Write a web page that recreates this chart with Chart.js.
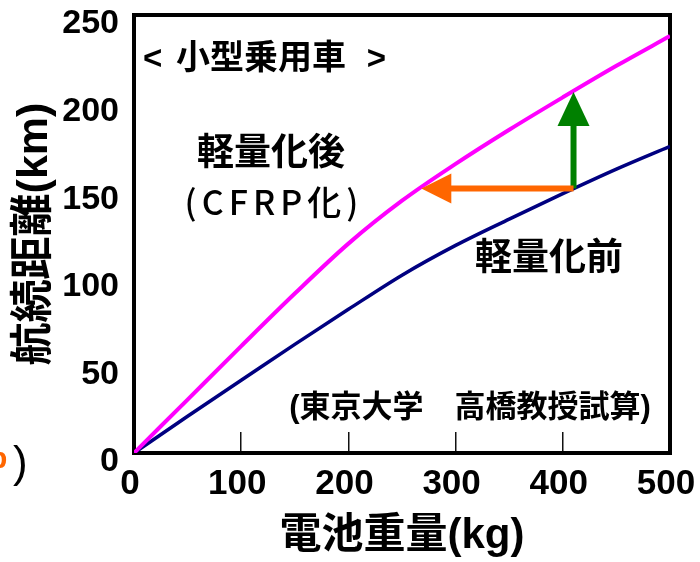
<!DOCTYPE html>
<html>
<head>
<meta charset="utf-8">
<script src="https://cdn.jsdelivr.net/npm/chart.js@4/dist/chart.umd.min.js"></script>
<style>
  body { margin: 0; background: #fff; }
</style>
</head>
<body>
<canvas id="rangeChart" width="700" height="562"></canvas>
<script>
// battery weight (kg) vs driving range (km)
var weights = [0, 50, 100, 150, 200, 250, 300, 350, 400, 450, 500];
var rangeAfter = [0, 30.5, 61, 91, 119.5, 144, 165, 184.5, 203, 221, 238];   // CFRP body
var rangeBefore = [0, 21, 41.5, 62, 82, 101.5, 118.5, 133.5, 148, 162, 175];
var xTicks = [0, 100, 200, 300, 400, 500];
var yTicks = [0, 50, 100, 150, 200, 250];

var jpFont = '"Liberation Sans", "Noto Sans CJK JP", sans-serif';
Chart.defaults.font.family = jpFont;
Chart.defaults.color = '#000';

function toPoints(ys) {
  return weights.map(function (w, i) { return { x: w, y: ys[i] }; });
}

function drawArrow(ctx, x1, y1, x2, y2, color, shaft, headW, headL) {
  var dx = x2 - x1, dy = y2 - y1;
  var len = Math.sqrt(dx * dx + dy * dy);
  var ux = dx / len, uy = dy / len;
  var bx = x2 - ux * headL, by = y2 - uy * headL;
  ctx.save();
  ctx.strokeStyle = color;
  ctx.fillStyle = color;
  ctx.lineWidth = shaft;
  ctx.lineCap = 'butt';
  ctx.beginPath();
  ctx.moveTo(x1, y1);
  ctx.lineTo(bx + ux, by + uy);
  ctx.stroke();
  ctx.beginPath();
  ctx.moveTo(x2, y2);
  ctx.lineTo(bx - uy * headW / 2, by + ux * headW / 2);
  ctx.lineTo(bx + uy * headW / 2, by - ux * headW / 2);
  ctx.closePath();
  ctx.fill();
  ctx.restore();
}

function txt(ctx, s, x, y, font, align, color) {
  ctx.font = font;
  ctx.textAlign = align || 'center';
  ctx.fillStyle = color || '#000';
  ctx.fillText(s, x, y);
}

var overlay = {
  id: 'overlay',
  beforeDatasetsDraw: function (chart) {
    var ctx = chart.ctx, a = chart.chartArea;
    ctx.save();
    ctx.strokeStyle = '#000';
    ctx.lineWidth = 4;
    ctx.strokeRect(a.left, a.top, a.right - a.left, a.bottom - a.top);
    ctx.restore();
  },
  afterDatasetsDraw: function (chart) {
    var ctx = chart.ctx, x = chart.scales.x, y = chart.scales.y;
    var bx = x.getPixelForValue(410), by = y.getPixelForValue(151);
    drawArrow(ctx, bx, by, bx, y.getPixelForValue(206), '#008000', 6, 32, 34);
    drawArrow(ctx, bx, by, x.getPixelForValue(268), by, '#ff6600', 6, 30, 30);

    ctx.save();
    ctx.textBaseline = 'middle';
    txt(ctx, '<', 143, 60, 'bold 33px ' + jpFont, 'left');
    txt(ctx, '小型乗用車', 261, 60, 'bold 34px ' + jpFont);
    txt(ctx, '>', 386, 60, 'bold 33px ' + jpFont, 'right');
    txt(ctx, '軽量化後', 271, 155, 'bold 37px ' + jpFont);
    ctx.letterSpacing = '5px';
    txt(ctx, '(CFRP化)', 274, 202, '500 34px "Noto Sans CJK JP", sans-serif');
    ctx.letterSpacing = '0px';
    txt(ctx, '軽量化前', 549, 260, 'bold 37px ' + jpFont);
    txt(ctx, '(東京大学\u3000高橋教授試算)', 470, 408, 'bold 31px ' + jpFont);
    ctx.restore();
  },
  afterDraw: function (chart) {
    var ctx = chart.ctx;
    ctx.save();
    ctx.textBaseline = 'alphabetic';
    txt(ctx, 'b', -11, 468, 'bold 30px ' + jpFont, 'left', '#ff6600');
    txt(ctx, ')', 13, 477, '44px "Liberation Sans", sans-serif', 'left');
    ctx.restore();
  }
};

new Chart(document.getElementById('rangeChart'), {
  type: 'line',
  data: {
    datasets: [{
      label: '軽量化後',
      data: toPoints(rangeAfter),
      borderColor: '#ff00ff',
      borderWidth: 4,
      pointRadius: 0,
      cubicInterpolationMode: 'monotone'
    }, {
      label: '軽量化前',
      data: toPoints(rangeBefore),
      borderColor: '#000080',
      borderWidth: 3.5,
      pointRadius: 0,
      cubicInterpolationMode: 'monotone'
    }]
  },
  options: {
    responsive: false,
    animation: false,
    layout: { padding: { top: 15, right: 30, left: 0, bottom: 0 } },
    plugins: { legend: { display: false }, tooltip: { enabled: false } },
    scales: {
      x: {
        type: 'linear',
        min: 0,
        max: 500,
        afterBuildTicks: function (s) { s.ticks = xTicks.map(function (v) { return { value: v }; }); },
        afterFit: function (s) { s.height = 109; s.paddingLeft = 0; s.paddingRight = 0; },
        border: { display: false },
        grid: {
          drawOnChartArea: false,
          drawTicks: true,
          tickLength: -21,
          lineWidth: 1.5,
          color: function (c) { return (c.tick && (c.tick.value === 0 || c.tick.value === 500)) ? 'rgba(0,0,0,0)' : '#111'; }
        },
        ticks: { padding: 31, labelOffset: -4, font: { size: 35, weight: 'bold' } },
        title: {
          display: true,
          text: '電池重量(kg)',
          font: { size: 42, weight: 'bold' },
          padding: { top: 0, bottom: 0 }
        }
      },
      y: {
        min: 0,
        max: 250,
        afterBuildTicks: function (s) { s.ticks = yTicks.map(function (v) { return { value: v }; }); },
        afterFit: function (s) { s.width = 134; s.paddingTop = 0; s.paddingBottom = 0; },
        border: { display: false },
        grid: { display: false, drawTicks: false },
        ticks: { padding: 15, labelOffset: 9, font: { size: 34, weight: 'bold', lineHeight: 0.8 } },
        title: {
          display: true,
          text: '航続距離(km)',
          font: { size: 43, weight: 'bold' },
          padding: { top: 9, bottom: 0 }
        }
      }
    }
  },
  plugins: [overlay]
});
</script>
</body>
</html>
